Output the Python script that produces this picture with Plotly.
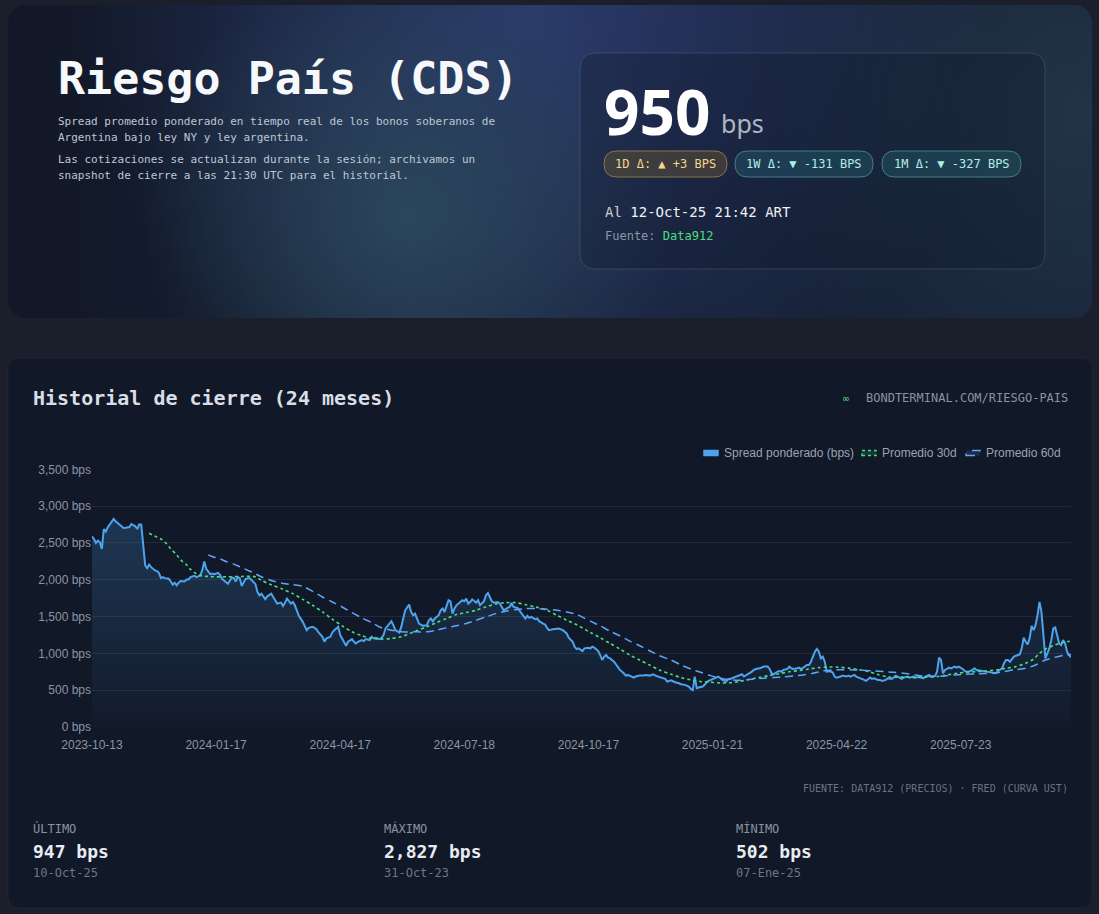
import base64
import plotly.graph_objects as go

# ---------------------------------------------------------------- data
tick_labels = ["2023-10-13", "2024-01-17", "2024-04-17", "2024-07-18",
               "2024-10-17", "2025-01-21", "2025-04-22", "2025-07-23"]
SESSIONS_PER_TICK = 63
last_session = 497
y_ticks = [0, 500, 1000, 1500, 2000, 2500, 3000, 3500]
series_names = ["Spread ponderado (bps)", "Promedio 30d", "Promedio 60d"]

spread_session = [
    0, 1, 2, 3, 4, 5, 6, 7, 8, 10,
    11, 12, 14, 16, 17, 19, 20, 22, 23, 24,
    25, 26, 27, 28, 29, 30, 32, 33, 34, 35,
    36, 37, 39, 40, 41, 42, 43, 44, 45, 47,
    48, 49, 50, 52, 53, 54, 55, 56, 57, 58,
    60, 61, 62, 64, 65, 66, 67, 69, 70, 71,
    72, 73, 74, 75, 76, 77, 78, 80, 81, 83,
    84, 85, 86, 87, 88, 89, 91, 92, 93, 94,
    96, 97, 98, 99, 101, 102, 103, 104, 105, 107,
    108, 109, 110, 112, 113, 114, 115, 117, 118, 119,
    121, 122, 123, 125, 126, 127, 128, 129, 130, 132,
    133, 134, 135, 137, 138, 139, 141, 142, 143, 144,
    146, 147, 148, 149, 151, 152, 153, 154, 156, 157,
    158, 159, 161, 162, 163, 164, 166, 167, 168, 170,
    171, 172, 173, 174, 176, 177, 178, 179, 180, 181,
    182, 183, 184, 185, 187, 188, 189, 190, 191, 192,
    193, 194, 195, 196, 197, 199, 200, 201, 202, 203,
    204, 206, 207, 208, 209, 211, 212, 213, 214, 216,
    217, 218, 220, 221, 222, 223, 225, 226, 227, 229,
    230, 231, 232, 234, 236, 237, 239, 241, 242, 244,
    245, 246, 247, 249, 250, 252, 253, 254, 255, 257,
    258, 259, 260, 261, 262, 263, 265, 266, 267, 268,
    270, 271, 272, 274, 275, 276, 278, 280, 281, 283,
    285, 286, 288, 289, 291, 292, 294, 295, 296, 298,
    299, 301, 303, 304, 305, 306, 307, 308, 310, 311,
    312, 313, 315, 316, 318, 319, 320, 322, 323, 324,
    326, 327, 328, 330, 331, 332, 334, 335, 336, 337,
    339, 340, 341, 343, 344, 345, 346, 348, 349, 350,
    351, 353, 354, 355, 356, 358, 359, 360, 362, 363,
    364, 365, 366, 367, 368, 369, 370, 371, 372, 373,
    374, 375, 376, 377, 378, 380, 381, 383, 384, 385,
    387, 388, 389, 391, 392, 393, 395, 396, 397, 399,
    400, 401, 403, 404, 406, 407, 408, 410, 411, 412,
    414, 415, 417, 418, 420, 422, 423, 425, 426, 428,
    429, 430, 431, 432, 433, 434, 435, 436, 438, 439,
    440, 442, 443, 444, 445, 447, 448, 449, 451, 452,
    454, 456, 457, 459, 460, 462, 463, 464, 465, 466,
    467, 468, 470, 471, 472, 473, 474, 475, 476, 477,
    478, 479, 480, 481, 482, 483, 484, 485, 486, 487,
    488, 489, 490, 491, 492, 493, 494, 495, 496, 497,
]
spread_bps = [
    2590, 2554, 2500, 2531, 2509, 2419, 2689, 2653, 2712, 2779,
    2827, 2793, 2743, 2703, 2707, 2716, 2757, 2725, 2689, 2752,
    2748, 2420, 2194, 2158, 2207, 2171, 2126, 2117, 2090, 2022,
    2036, 2022, 2013, 1977, 1932, 1959, 1923, 1959, 1982, 1977,
    2004, 2004, 2036, 2054, 2036, 2045, 2058, 2130, 2248, 2149,
    2076, 2085, 2076, 2094, 2067, 2013, 1991, 1946, 1991, 2031,
    2022, 1977, 2036, 2022, 1914, 1968, 2013, 2022, 1991, 1940,
    1833, 1788, 1811, 1766, 1734, 1775, 1811, 1766, 1721, 1676,
    1689, 1644, 1689, 1743, 1676, 1698, 1653, 1585, 1509, 1428,
    1360, 1315, 1347, 1360, 1347, 1324, 1284, 1225, 1158, 1203,
    1225, 1284, 1315, 1360, 1248, 1194, 1158, 1104, 1158, 1194,
    1158, 1135, 1158, 1180, 1167, 1194, 1180, 1225, 1203, 1212,
    1194, 1212, 1248, 1338, 1405, 1437, 1383, 1315, 1284, 1360,
    1473, 1585, 1662, 1563, 1518, 1540, 1405, 1392, 1374, 1383,
    1450, 1473, 1437, 1473, 1518, 1585, 1608, 1563, 1653, 1721,
    1707, 1540, 1608, 1653, 1698, 1721, 1707, 1743, 1676, 1698,
    1734, 1707, 1689, 1721, 1653, 1707, 1788, 1820, 1766, 1707,
    1689, 1698, 1676, 1631, 1585, 1617, 1631, 1685, 1631, 1617,
    1585, 1540, 1473, 1509, 1482, 1495, 1464, 1473, 1437, 1405,
    1392, 1347, 1315, 1329, 1338, 1338, 1315, 1270, 1212, 1158,
    1090, 1058, 1068, 1032, 1068, 1077, 1068, 1090, 1077, 1032,
    977, 910, 955, 977, 941, 932, 887, 851, 820, 775,
    730, 698, 707, 685, 671, 685, 698, 698, 707, 698,
    716, 698, 685, 671, 653, 617, 635, 617, 608, 594,
    581, 572, 549, 518, 502, 685, 527, 536, 549, 572,
    608, 626, 653, 662, 685, 662, 640, 617, 653, 653,
    671, 685, 698, 716, 685, 700, 730, 752, 775, 788,
    797, 806, 820, 820, 788, 730, 716, 752, 761, 752,
    775, 788, 820, 797, 788, 797, 806, 788, 820, 842,
    842, 887, 955, 1022, 1059, 1022, 932, 955, 887, 752,
    761, 752, 743, 685, 671, 685, 698, 685, 698, 685,
    707, 685, 671, 653, 640, 626, 671, 653, 662, 640,
    640, 626, 640, 662, 653, 671, 698, 671, 653, 671,
    685, 671, 685, 671, 685, 662, 685, 707, 685, 694,
    752, 941, 910, 730, 775, 788, 806, 797, 820, 806,
    820, 788, 761, 752, 752, 775, 797, 775, 761, 761,
    752, 743, 730, 730, 761, 797, 865, 910, 910, 887,
    923, 955, 977, 986, 1068, 1212, 1158, 1122, 1203, 1374,
    1315, 1383, 1518, 1698, 1563, 1248, 932, 1000, 1068, 1180,
    1338, 1351, 1248, 1135, 1113, 1180, 1135, 1023, 975, 947,
]

ma30_session = [
    29, 32, 35, 38, 40, 43, 45, 48, 50, 53,
    56, 59, 62, 69, 76, 83, 86, 91, 97, 102,
    107, 112, 117, 122, 127, 132, 137, 142, 147, 152,
    157, 163, 165, 170, 175, 180, 185, 190, 195, 200,
    205, 210, 215, 220, 225, 231, 236, 241, 246, 248,
    253, 258, 263, 268, 273, 278, 283, 288, 294, 299,
    304, 309, 314, 319, 324, 329, 334, 339, 344, 349,
    354, 359, 364, 369, 374, 379, 384, 389, 394, 399,
    404, 409, 414, 418, 423, 429, 434, 439, 444, 449,
    454, 459, 464, 469, 474, 478, 481, 484, 488, 491,
    495, 497,
]
ma30_bps = [
    2631, 2590, 2554, 2486, 2419, 2338, 2270, 2203, 2140, 2081,
    2050, 2045, 2040, 2040, 2045, 2040, 1991, 1932, 1869, 1811,
    1734, 1653, 1563, 1464, 1374, 1293, 1239, 1203, 1194, 1203,
    1225, 1290, 1310, 1360, 1419, 1473, 1527, 1554, 1585, 1631,
    1671, 1689, 1689, 1662, 1631, 1585, 1518, 1450, 1390, 1360,
    1284, 1212, 1135, 1059, 977, 910, 842, 775, 716, 671,
    640, 617, 608, 598, 600, 620, 648, 675, 700, 725,
    750, 768, 788, 806, 815, 812, 800, 780, 755, 712,
    680, 675, 680, 671, 676, 685, 707, 730, 743, 752,
    761, 775, 797, 820, 865, 923, 1000, 1059, 1104, 1135,
    1158, 1168,
]

ma60_session = [
    59, 61, 65, 68, 72, 75, 78, 82, 86, 91,
    97, 102, 107, 112, 117, 122, 127, 132, 137, 142,
    147, 152, 157, 163, 170, 175, 180, 185, 190, 195,
    200, 205, 210, 215, 220, 225, 231, 236, 241, 246,
    248, 253, 258, 263, 268, 273, 278, 283, 288, 294,
    299, 304, 309, 314, 319, 324, 329, 336, 341, 346,
    351, 356, 361, 366, 371, 376, 381, 386, 391, 397,
    402, 407, 412, 418, 423, 428, 433, 438, 443, 448,
    453, 458, 463, 468, 474, 479, 484, 489, 494, 497,
]
ma60_bps = [
    2338, 2315, 2284, 2248, 2212, 2176, 2140, 2094, 2040, 1990,
    1950, 1932, 1910, 1842, 1766, 1698, 1630, 1554, 1482, 1419,
    1347, 1315, 1293, 1293, 1293, 1315, 1347, 1374, 1405, 1450,
    1495, 1540, 1572, 1594, 1608, 1608, 1599, 1585, 1563, 1531,
    1505, 1437, 1374, 1302, 1239, 1167, 1104, 1036, 968, 910,
    842, 788, 743, 698, 662, 640, 635, 653, 662, 671,
    680, 694, 707, 730, 761, 775, 779, 775, 770, 761,
    752, 743, 730, 707, 690, 685, 694, 707, 716, 721,
    725, 730, 752, 775, 797, 842, 910, 946, 977, 986,
]

current_bps = 950
badge_labels = ["1D", "1W", "1M"]
badge_changes = [3, -131, -327]
stats_labels = ["ÚLTIMO", "MÁXIMO", "MÍNIMO"]
stats_values = [947, 2827, 502]
stats_dates = ["10-Oct-25", "31-Oct-23", "07-Ene-25"]

# ---------------------------------------------------------------- styling
W, H = 1099, 914
PAGE_BG = "#1a1f2b"
CARD_BG = "#111827"
MONO = "DejaVu Sans Mono"
SANS = "Liberation Sans"
DISPLAY = "Noto Sans"
BLUE = "#4da3ee"
GREEN = "#4ade80"
BLUE60 = "#60a5fa"


def fx(x):
    return x / W


def fy(y):
    return 1 - y / H


def rounded(x0, y0, x1, y1, r):
    return ("M{a},{b} L{c},{b} Q{d},{b} {d},{e} L{d},{f} Q{d},{g} {c},{g} "
            "L{a},{g} Q{h},{g} {h},{f} L{h},{e} Q{h},{b} {a},{b} Z").format(
        a=fx(x0 + r), b=fy(y0), c=fx(x1 - r), d=fx(x1), e=fy(y0 + r),
        f=fy(y1 - r), g=fy(y1), h=fx(x0))


shapes = []


def add_box(x0, y0, x1, y1, r, fill, line="rgba(0,0,0,0)", lw=1, layer="below", dash="solid"):
    shapes.append(dict(type="path", xref="paper", yref="paper", layer=layer,
                       path=rounded(x0, y0, x1, y1, r), fillcolor=fill,
                       line=dict(color=line, width=lw, dash=dash)))


annotations = []


def add_text(x, y, text, size, color, family=MONO, xanchor="left", weight="normal"):
    annotations.append(dict(x=fx(x), y=fy(y), xref="paper", yref="paper", text=text,
                            showarrow=False, xanchor=xanchor, yanchor="middle",
                            font=dict(family=family, size=size, color=color, weight=weight)))


# hero background with soft glows (pure decoration, no text)
hero_svg = """<svg xmlns='http://www.w3.org/2000/svg' width='1084' height='313'>
<defs>
<linearGradient id='b' x1='0' y1='0' x2='1' y2='0'>
<stop offset='0' stop-color='#121828'/><stop offset='1' stop-color='#18243a'/></linearGradient>
<radialGradient id='g1' gradientUnits='userSpaceOnUse' cx='525' cy='0' r='460'>
<stop offset='0' stop-color='#2d3d72' stop-opacity='0.9'/><stop offset='1' stop-color='#2d3d72' stop-opacity='0'/></radialGradient>
<radialGradient id='g2' gradientUnits='userSpaceOnUse' cx='400' cy='210' r='270'>
<stop offset='0' stop-color='#2e4e60' stop-opacity='0.8'/><stop offset='1' stop-color='#2e4e60' stop-opacity='0'/></radialGradient>
<radialGradient id='g3' gradientUnits='userSpaceOnUse' cx='1070' cy='110' r='320'>
<stop offset='0' stop-color='#24394c' stop-opacity='0.75'/><stop offset='1' stop-color='#24394c' stop-opacity='0'/></radialGradient>
<clipPath id='c'><rect width='1084' height='313' rx='18' ry='18'/></clipPath>
</defs>
<g clip-path='url(#c)'>
<rect width='1084' height='313' fill='url(#b)'/>
<rect width='1084' height='313' fill='url(#g1)'/>
<rect width='1084' height='313' fill='url(#g2)'/>
<rect width='1084' height='313' fill='url(#g3)'/>
</g></svg>"""
hero_src = "data:image/svg+xml;base64," + base64.b64encode(hero_svg.encode()).decode()
images = [dict(source=hero_src, xref="paper", yref="paper", x=fx(8), y=fy(5),
               sizex=1084 / W, sizey=313 / H, xanchor="left", yanchor="top",
               sizing="stretch", layer="below")]

# cards
add_box(580, 53, 1045, 269, 16, "rgba(8,12,26,0.22)", "rgba(148,163,184,0.22)", 1)
add_box(8, 358, 1092, 908, 12, CARD_BG, "rgba(255,255,255,0.04)", 1)

# ---------------------------------------------------------------- hero texts
add_text(56, 78, "Riesgo País (CDS)", 45, "#f6f8fb", weight="bold")
add_text(56, 121, "Spread promedio ponderado en tiempo real de los bonos soberanos de", 11, "#bfc7d2")
add_text(56, 138, "Argentina bajo ley NY y ley argentina.", 11, "#bfc7d2")
add_text(56, 159, "Las cotizaciones se actualizan durante la sesión; archivamos un", 11, "#bfc7d2")
add_text(56, 176, "snapshot de cierre a las 21:30 UTC para el historial.", 11, "#bfc7d2")

add_text(602, 111, f"{current_bps}", 62, "#ffffff", family=DISPLAY, weight="bold")
add_text(719, 123, "bps", 25, "#aeb7c4", family=DISPLAY)

badge_boxes = [(604, 727), (735, 873), (882, 1021)]
for (bx0, bx1), lab, chg in zip(badge_boxes, badge_labels, badge_changes):
    up = chg > 0
    fill = "rgba(125,100,45,0.35)" if up else "rgba(40,120,130,0.30)"
    edge = "#8a7448" if up else "#3f7f87"
    col = "#f3d58b" if up else "#b3ece6"
    add_box(bx0, 151, bx1, 177, 13, fill, edge, 1)
    arrow = "▲" if up else "▼"
    add_text((bx0 + bx1) / 2, 164, f"{lab} Δ: {arrow} {chg:+d} BPS", 12, col, xanchor="center")

add_text(603, 212, "<span style='color:#c7cdd6'>Al</span> 12-Oct-25 21:42 ART", 14, "#eef1f5")
add_text(603, 236, "Fuente: <span style='color:#4ade80'>Data912</span>", 12, "#8d96a5")

# ---------------------------------------------------------------- chart card texts
add_text(31, 398, "Historial de cierre (24 meses)", 20, "#d9dee6", weight="bold")
add_text(1070, 398, "BONDTERMINAL.COM/RIESGO-PAIS", 12, "#8a93a2", xanchor="right")
add_text(846, 398, "∞", 10, GREEN, xanchor="center")
add_text(1070, 788, "FUENTE: DATA912 (PRECIOS) · FRED (CURVA UST)", 10, "#6b7383", xanchor="right")

for cx, lab, val, dt in zip([31, 382, 734], stats_labels, stats_values, stats_dates):
    add_text(cx, 828, lab, 12, "#8b93a1")
    add_text(cx, 851, f"{val:,} bps", 18, "#e8ebf0", weight="bold")
    add_text(cx, 873, dt, 12, "#6f7786")

# legend (chart.js style boxes)
legend_x = [704, 862, 966]
legend_fill = [BLUE, "rgba(74,222,128,0.15)", "rgba(96,165,250,0.15)"]
legend_edge = [BLUE, GREEN, BLUE60]
legend_dash = ["solid", "dot", "dash"]
for lx, name, fc, ec, dsh in zip(legend_x, series_names, legend_fill, legend_edge, legend_dash):
    shapes.append(dict(type="rect", xref="paper", yref="paper", layer="above",
                       x0=fx(lx), x1=fx(lx + 14), y0=fy(455.5), y1=fy(450.5),
                       fillcolor=fc, line=dict(color=ec, width=1.5, dash=dsh)))
    add_text(lx + 18, 453, name, 12, "#9aa3b2", family=SANS)

# ---------------------------------------------------------------- traces
fig = go.Figure()
fig.add_trace(go.Scatter(
    x=spread_session, y=spread_bps, mode="lines", name=series_names[0],
    line=dict(color=BLUE, width=2),
    fill="tozeroy",
    fillgradient=dict(type="vertical", start=0, stop=2850,
                      colorscale=[[0, "rgba(77,163,238,0.02)"], [1, "rgba(77,163,238,0.22)"]]),
    hoverinfo="skip"))
fig.add_trace(go.Scatter(
    x=ma30_session, y=ma30_bps, mode="lines", name=series_names[1],
    line=dict(color=GREEN, width=1.6, dash="3px,3px", shape="spline", smoothing=0.8),
    hoverinfo="skip"))
fig.add_trace(go.Scatter(
    x=ma60_session, y=ma60_bps, mode="lines", name=series_names[2],
    line=dict(color=BLUE60, width=1.5, dash="8px,5px", shape="spline", smoothing=0.8),
    hoverinfo="skip"))

tick_vals = [i * SESSIONS_PER_TICK for i in range(len(tick_labels))]

fig.update_layout(
    width=W, height=H, margin=dict(l=0, r=0, t=0, b=0, autoexpand=False),
    paper_bgcolor=PAGE_BG, plot_bgcolor="rgba(0,0,0,0)",
    shapes=shapes, annotations=annotations, images=images,
    showlegend=False,
    xaxis=dict(domain=[fx(92), fx(1071)], range=[0, last_session], automargin=False,
               tickmode="array", tickvals=tick_vals, ticktext=tick_labels,
               showgrid=False, zeroline=False, showline=False, ticks="",
               ticklabelstandoff=9,
               tickfont=dict(family=SANS, size=12, color="#8b95a5"), fixedrange=True),
    yaxis=dict(domain=[fy(727), fy(469.3)], range=[0, 3500], automargin=False,
               tickmode="array", tickvals=y_ticks,
               ticktext=[f"{v:,} bps" for v in y_ticks],
               gridcolor="rgba(148,163,184,0.13)", gridwidth=1,
               zeroline=False, showline=False, ticks="",
               tickfont=dict(family=SANS, size=12, color="#8b95a5"), fixedrange=True),
)

fig.write_html("out.html", config={"displayModeBar": False})
